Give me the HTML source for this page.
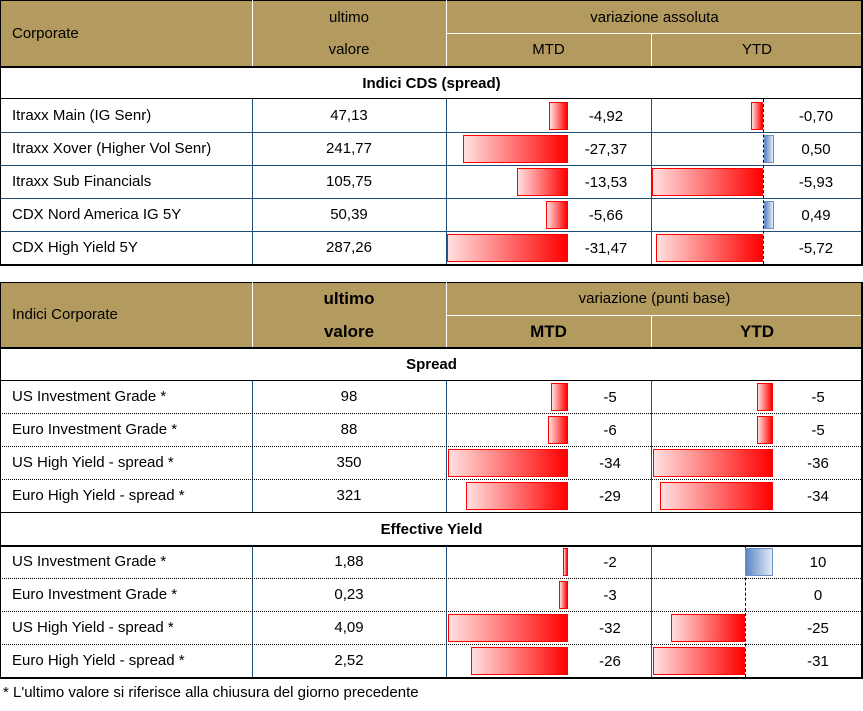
<!DOCTYPE html>
<html><head><meta charset="utf-8"><style>
*{margin:0;padding:0;box-sizing:border-box}
body{width:863px;height:711px;background:#fff;position:relative;font-family:"Liberation Sans",sans-serif;overflow:hidden}
div{position:absolute}
.h{background:#b39a5e;color:#fff;font-size:15px}
.t{font-size:15px;color:#000;white-space:nowrap;line-height:33px;height:33px}
.c{text-align:center}
.b{font-weight:bold}
.hl{height:1px;left:0;width:863px;border-top:1px dotted #000}
.hs{height:2px;left:0;width:863px;background:#000}
.vl{width:1px;background:#1f4e79}
.n{background:linear-gradient(to right,#ffe0e0,#ff0000);border:1px solid #f00;height:28px}
.p{background:linear-gradient(to right,#5b86c4,#e4ecf7);border:1px solid #6a8fc8;height:28px}
.dash{width:0;border-left:1px dashed #000}
</style></head><body>
<!-- TABLE 1 -->
<div class="h" style="left:0;top:0;width:863px;height:66px"></div>
<div style="left:0;top:0;width:863px;height:1px;background:#000"></div>
<div style="left:252px;top:0;width:1px;height:66px;background:#fff"></div>
<div style="left:446px;top:0;width:1px;height:66px;background:#fff"></div>
<div style="left:651px;top:33px;width:1px;height:33px;background:#fff"></div>
<div style="left:446px;top:33px;width:417px;height:1px;background:#fff"></div>
<div class="t h" style="left:12px;top:17px;background:none">Corporate</div>
<div class="t h c" style="left:252px;top:1px;width:194px;background:none">ultimo</div>
<div class="t h c" style="left:252px;top:33px;width:194px;background:none">valore</div>
<div class="t h c" style="left:446px;top:1px;width:417px;background:none">variazione assoluta</div>
<div class="t h c" style="left:446px;top:33px;width:205px;background:none">MTD</div>
<div class="t h c" style="left:651px;top:33px;width:212px;background:none">YTD</div>
<div class="hs" style="top:66px"></div>
<div class="t c b" style="left:0;top:67px;width:863px">Indici CDS (spread)</div>
<div class="hs" style="top:98px;height:1px"></div>
<div class="vl" style="left:252px;top:99px;height:166px"></div>
<div class="vl" style="left:446px;top:99px;height:166px"></div>
<div class="vl" style="left:651px;top:99px;height:166px"></div>
<div class="hl" style="top:132px;border-top:1px solid #1f4e79"></div>
<div class="hl" style="top:165px;border-top:1px solid #1f4e79"></div>
<div class="hl" style="top:198px;border-top:1px solid #1f4e79"></div>
<div class="hl" style="top:231px;border-top:1px solid #1f4e79"></div>
<div class="hs" style="top:264px"></div>
<div style="left:861px;top:0;width:2px;height:266px;background:#000"></div>
<div style="left:0;top:0;width:1px;height:266px;background:#000"></div>
<div class="dash" style="left:763px;top:99px;height:165px"></div>
<!-- rows t1 -->
<div class="t" style="left:12px;top:99px">Itraxx Main (IG Senr)</div><div class="t c" style="left:252px;top:99px;width:194px">47,13</div>
<div class="n" style="left:549px;top:102px;width:19px"></div><div class="t c" style="left:566px;top:100px;width:80px">-4,92</div>
<div class="n" style="left:751px;top:102px;width:12px"></div><div class="t c" style="left:776px;top:100px;width:80px">-0,70</div>
<div class="t" style="left:12px;top:132px">Itraxx Xover (Higher Vol Senr)</div><div class="t c" style="left:252px;top:132px;width:194px">241,77</div>
<div class="n" style="left:463px;top:135px;width:105px"></div><div class="t c" style="left:566px;top:133px;width:80px">-27,37</div>
<div class="p" style="left:764px;top:135px;width:10px"></div><div class="t c" style="left:776px;top:133px;width:80px">0,50</div>
<div class="t" style="left:12px;top:165px">Itraxx Sub Financials</div><div class="t c" style="left:252px;top:165px;width:194px">105,75</div>
<div class="n" style="left:517px;top:168px;width:51px"></div><div class="t c" style="left:566px;top:166px;width:80px">-13,53</div>
<div class="n" style="left:652px;top:168px;width:111px"></div><div class="t c" style="left:776px;top:166px;width:80px">-5,93</div>
<div class="t" style="left:12px;top:198px">CDX Nord America IG 5Y</div><div class="t c" style="left:252px;top:198px;width:194px">50,39</div>
<div class="n" style="left:546px;top:201px;width:22px"></div><div class="t c" style="left:566px;top:199px;width:80px">-5,66</div>
<div class="p" style="left:764px;top:201px;width:10px"></div><div class="t c" style="left:776px;top:199px;width:80px">0,49</div>
<div class="t" style="left:12px;top:231px">CDX High Yield 5Y</div><div class="t c" style="left:252px;top:231px;width:194px">287,26</div>
<div class="n" style="left:447px;top:234px;width:121px"></div><div class="t c" style="left:566px;top:232px;width:80px">-31,47</div>
<div class="n" style="left:656px;top:234px;width:107px"></div><div class="t c" style="left:776px;top:232px;width:80px">-5,72</div>

<!-- TABLE 2 -->
<div class="h" style="left:0;top:282px;width:863px;height:66px"></div>
<div style="left:0;top:282px;width:863px;height:1px;background:#000"></div>
<div style="left:252px;top:282px;width:1px;height:66px;background:#fff"></div>
<div style="left:446px;top:282px;width:1px;height:66px;background:#fff"></div>
<div style="left:651px;top:315px;width:1px;height:33px;background:#fff"></div>
<div style="left:446px;top:315px;width:417px;height:1px;background:#fff"></div>
<div class="t h" style="left:12px;top:298px;background:none">Indici Corporate</div>
<div class="t h c b" style="left:252px;top:282px;width:194px;background:none;font-size:17px">ultimo</div>
<div class="t h c b" style="left:252px;top:315px;width:194px;background:none;font-size:17px">valore</div>
<div class="t h c" style="left:446px;top:282px;width:417px;background:none">variazione (punti base)</div>
<div class="t h c b" style="left:446px;top:315px;width:205px;background:none;font-size:17px">MTD</div>
<div class="t h c b" style="left:651px;top:315px;width:212px;background:none;font-size:17px">YTD</div>
<div class="hs" style="top:347px"></div>
<div class="t c b" style="left:0;top:348px;width:863px">Spread</div>
<div class="hs" style="top:380px;height:1px"></div>
<div class="vl" style="left:252px;top:381px;height:132px"></div>
<div class="vl" style="left:446px;top:381px;height:132px"></div>
<div class="vl" style="left:651px;top:381px;height:132px"></div>
<div class="hl" style="top:413px"></div>
<div class="hl" style="top:446px"></div>
<div class="hl" style="top:479px"></div>
<div class="hs" style="top:512px;height:1px"></div>
<div class="t c b" style="left:0;top:513px;width:863px">Effective Yield</div>
<div class="hs" style="top:545px;height:2px"></div>
<div class="vl" style="left:252px;top:546px;height:132px"></div>
<div class="vl" style="left:446px;top:546px;height:132px"></div>
<div class="vl" style="left:651px;top:546px;height:132px"></div>
<div class="hl" style="top:578px"></div>
<div class="hl" style="top:611px"></div>
<div class="hl" style="top:644px"></div>
<div class="hs" style="top:677px"></div>
<div style="left:861px;top:282px;width:2px;height:397px;background:#000"></div>
<div style="left:0;top:282px;width:1px;height:397px;background:#000"></div>
<div class="dash" style="left:745px;top:547px;height:130px"></div>

<div class="t" style="left:12px;top:380px">US Investment Grade *</div><div class="t c" style="left:252px;top:380px;width:194px">98</div>
<div class="n" style="left:551px;top:383px;width:17px"></div><div class="t c" style="left:570px;top:381px;width:80px">-5</div>
<div class="n" style="left:757px;top:383px;width:16px"></div><div class="t c" style="left:778px;top:381px;width:80px">-5</div>
<div class="t" style="left:12px;top:413px">Euro Investment Grade *</div><div class="t c" style="left:252px;top:413px;width:194px">88</div>
<div class="n" style="left:548px;top:416px;width:20px"></div><div class="t c" style="left:570px;top:414px;width:80px">-6</div>
<div class="n" style="left:757px;top:416px;width:16px"></div><div class="t c" style="left:778px;top:414px;width:80px">-5</div>
<div class="t" style="left:12px;top:446px">US High Yield  - spread *</div><div class="t c" style="left:252px;top:446px;width:194px">350</div>
<div class="n" style="left:448px;top:449px;width:120px"></div><div class="t c" style="left:570px;top:447px;width:80px">-34</div>
<div class="n" style="left:653px;top:449px;width:120px"></div><div class="t c" style="left:778px;top:447px;width:80px">-36</div>
<div class="t" style="left:12px;top:479px">Euro High Yield  - spread *</div><div class="t c" style="left:252px;top:479px;width:194px">321</div>
<div class="n" style="left:466px;top:482px;width:102px"></div><div class="t c" style="left:570px;top:480px;width:80px">-29</div>
<div class="n" style="left:660px;top:482px;width:113px"></div><div class="t c" style="left:778px;top:480px;width:80px">-34</div>

<div class="t" style="left:12px;top:545px">US Investment Grade *</div><div class="t c" style="left:252px;top:545px;width:194px">1,88</div>
<div class="n" style="left:563px;top:548px;width:5px"></div><div class="t c" style="left:570px;top:546px;width:80px">-2</div>
<div class="p" style="left:745px;top:548px;width:28px"></div><div class="t c" style="left:778px;top:546px;width:80px">10</div>
<div class="t" style="left:12px;top:578px">Euro Investment Grade *</div><div class="t c" style="left:252px;top:578px;width:194px">0,23</div>
<div class="n" style="left:559px;top:581px;width:9px"></div><div class="t c" style="left:570px;top:579px;width:80px">-3</div>
<div class="t c" style="left:778px;top:579px;width:80px">0</div>
<div class="t" style="left:12px;top:611px">US High Yield  - spread *</div><div class="t c" style="left:252px;top:611px;width:194px">4,09</div>
<div class="n" style="left:448px;top:614px;width:120px"></div><div class="t c" style="left:570px;top:612px;width:80px">-32</div>
<div class="n" style="left:671px;top:614px;width:74px"></div><div class="t c" style="left:778px;top:612px;width:80px">-25</div>
<div class="t" style="left:12px;top:644px">Euro High Yield  - spread *</div><div class="t c" style="left:252px;top:644px;width:194px">2,52</div>
<div class="n" style="left:471px;top:647px;width:97px"></div><div class="t c" style="left:570px;top:645px;width:80px">-26</div>
<div class="n" style="left:653px;top:647px;width:92px"></div><div class="t c" style="left:778px;top:645px;width:80px">-31</div>

<div class="t" style="left:3px;top:676px;font-size:15px">* L'ultimo valore si riferisce alla chiusura del giorno precedente</div>
</body></html>
